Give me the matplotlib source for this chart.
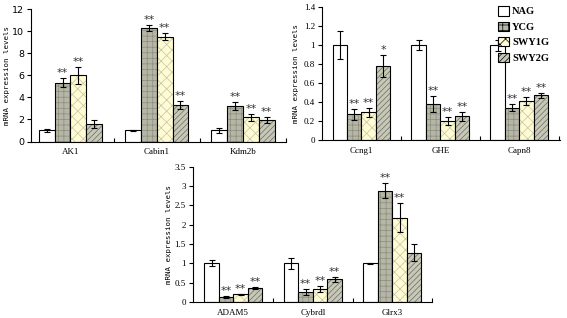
import matplotlib.pyplot as plt
import numpy as np

# groups (legend)
groups = ['NAG', 'YCG', 'SWY1G', 'SWY2G']

# panel 1
genes1 = ['AK1', 'Cabin1', 'Kdm2b']
vals1 = [[1.0, 1.0, 1.0], [5.35, 10.3, 3.2], [6.0, 9.5, 2.2], [1.6, 3.3, 1.95]]
errs1 = [[0.1, 0.05, 0.2], [0.45, 0.25, 0.35], [0.8, 0.3, 0.3], [0.35, 0.35, 0.25]]
sig1 = [['', '', ''], ['**', '**', '**'], ['**', '**', '**'], ['', '**', '**']]
yticks1 = [0, 2, 4, 6, 8, 10, 12]

# panel 2
genes2 = ['Ccng1', 'GHE', 'Capn8']
vals2 = [[1.0, 1.0, 1.0], [0.27, 0.38, 0.34], [0.29, 0.2, 0.41], [0.78, 0.25, 0.47]]
errs2 = [[0.15, 0.05, 0.06], [0.06, 0.08, 0.035], [0.05, 0.04, 0.04], [0.12, 0.05, 0.03]]
sig2 = [['', '', ''], ['**', '**', '**'], ['**', '**', '**'], ['*', '**', '**']]
yticks2 = ['0', '0.2', '0.4', '0.6', '0.8', '1', '1.2', '1.4']

# panel 3
genes3 = ['ADAM5', 'Cybrdl', 'Glrx3']
vals3 = [[1.0, 1.0, 1.0], [0.13, 0.26, 2.88], [0.2, 0.34, 2.18], [0.37, 0.59, 1.28]]
errs3 = [[0.08, 0.15, 0.02], [0.02, 0.07, 0.2], [0.02, 0.07, 0.38], [0.02, 0.06, 0.22]]
sig3 = [['', '', ''], ['**', '**', '**'], ['**', '**', '**'], ['**', '**', '']]
yticks3 = ['0', '0.5', '1', '1.5', '2', '2.5', '3', '3.5']

# bar styles: face, hatch, hatch colour
styles = [('white', '', 'black'),
          ('#b6b6a6', '+++', '#8c8c7c'),
          ('#fffbd2', 'xxx', '#c4c4a8'),
          ('#c8c8b8', '//////', '#6a6a60')]

serif = ['Liberation Serif', 'DejaVu Serif']
plt.rcParams['hatch.linewidth'] = 0.5


def panel(ax, genes, vals, errs, sig, yticks, ymax, xlim, tickfont, tfs, labx):
    x = np.arange(len(genes))
    w = 0.183
    for i in range(4):
        pos = x + (i - 1.5) * w
        face, hatch, hc = styles[i]
        ax.bar(pos, vals[i], w, color=face, hatch=hatch, edgecolor=hc, linewidth=0)
        ax.bar(pos, vals[i], w, fill=False, edgecolor='black', linewidth=0.8)
        ax.errorbar(pos, vals[i], yerr=errs[i], fmt='none', ecolor='black',
                    elinewidth=0.8, capsize=2.5, capthick=0.8)
        for j in range(len(genes)):
            if sig[i][j]:
                ax.text(pos[j], vals[i][j] + errs[i][j], sig[i][j], ha='center',
                        va='bottom', fontsize=8, color='#333333')
    ax.set_xlim(*xlim)
    ax.set_ylim(0, ymax)
    yv = [float(t) for t in yticks]
    ax.set_yticks(yv)
    ax.set_yticklabels([str(t) for t in yticks], fontsize=tfs, family=tickfont)
    ax.set_xticks([0.5, 1.5, 2.5])
    ax.set_xticklabels([])
    ax.tick_params(axis='x', direction='in', length=3, width=0.8)
    ax.tick_params(axis='y', direction='out', length=3, width=0.8, pad=2)
    for j, g in enumerate(genes):
        ax.text(j, -0.05, g, transform=ax.get_xaxis_transform(), ha='center',
                va='top', fontsize=6.5, family=serif)
    ax.spines['top'].set_visible(False)
    ax.spines['right'].set_visible(False)
    ax.spines['left'].set_linewidth(0.8)
    ax.spines['bottom'].set_linewidth(0.8)
    ax.set_ylabel('mRNA expression levels', fontsize=5.3, family='DejaVu Sans Mono')
    ax.yaxis.set_label_coords(labx, 0.5)


fig = plt.figure(figsize=(5.67, 3.18), dpi=100)

ax1 = fig.add_axes([0.0547, 0.555, 0.45, 0.416])
panel(ax1, genes1, vals1, errs1, sig1, yticks1, 12, (-0.457, 2.5), 'DejaVu Sans', 6.8, -0.082)

ax2 = fig.add_axes([0.568, 0.560, 0.420, 0.417])
panel(ax2, genes2, vals2, errs2, sig2, yticks2, 1.4, (-0.5, 2.52), serif, 6.5, -0.097)

ax3 = fig.add_axes([0.340, 0.050, 0.422, 0.426])
panel(ax3, genes3, vals3, errs3, sig3, yticks3, 3.5, (-0.51, 2.5), serif, 6.5, -0.088)

handles = []
for i, g in enumerate(groups):
    face, hatch, hc = styles[i]
    handles.append(plt.Rectangle((0, 0), 1, 1, facecolor=face, hatch=hatch,
                                 edgecolor='black', linewidth=0.8, label=g))
fig.legend(handles=handles, loc='upper left', bbox_to_anchor=(0.868, 1.0),
           frameon=False, prop={'family': serif, 'size': 7.5, 'weight': 'bold'},
           handlelength=1.0, handleheight=1.0, handletextpad=0.3, labelspacing=0.5,
           borderaxespad=0.2)

fig.savefig('out.png', dpi=100)
